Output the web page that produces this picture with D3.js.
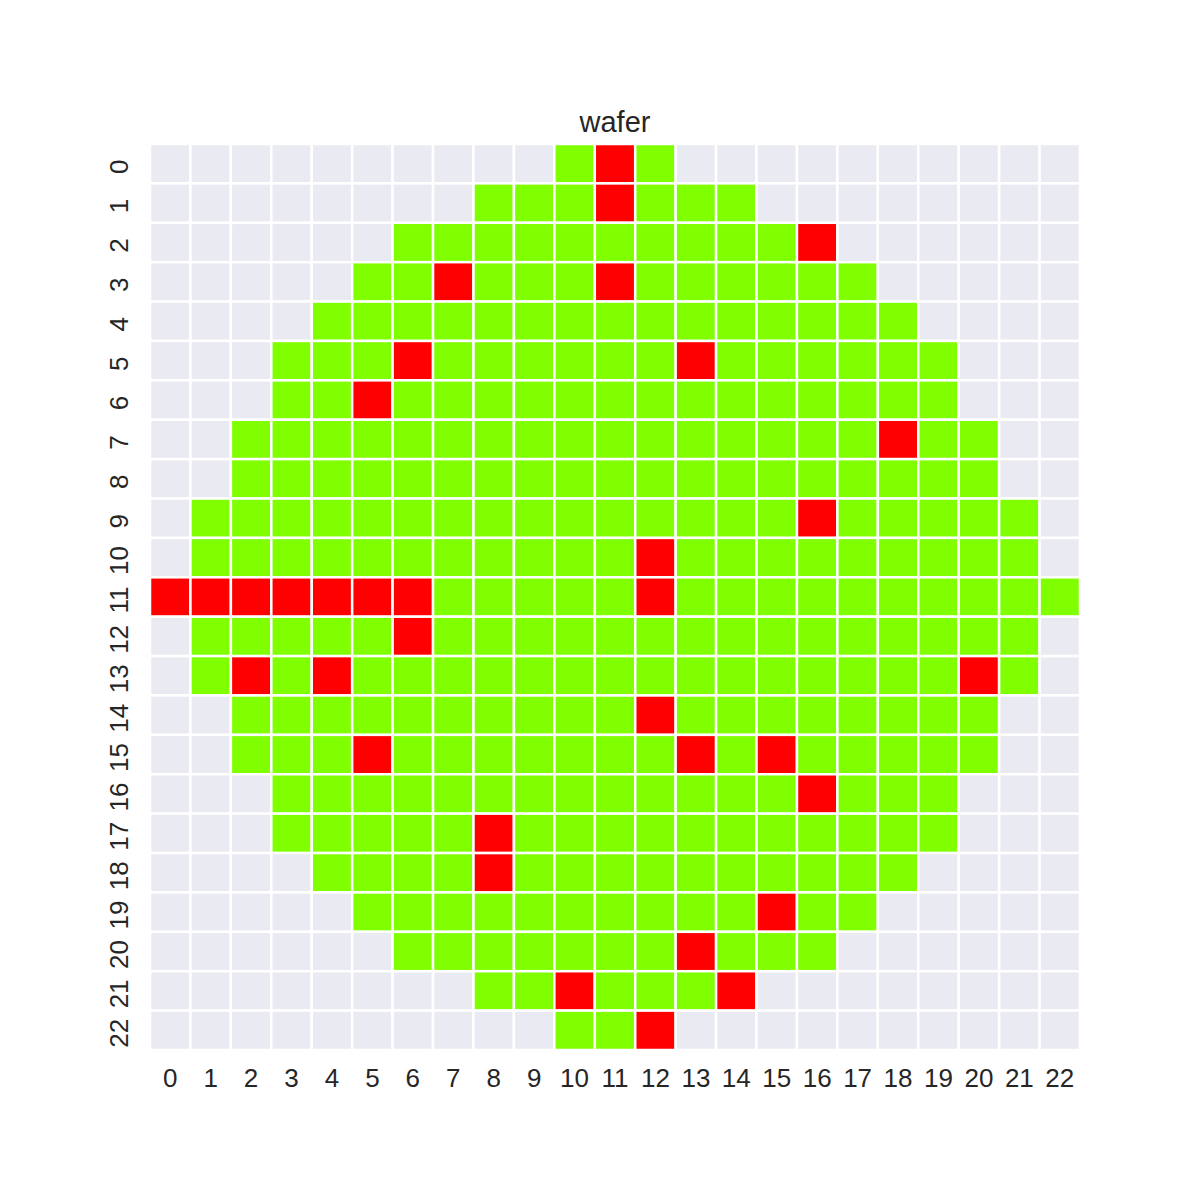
<!DOCTYPE html>
<html>
<head>
<meta charset="utf-8">
<script src="https://cdn.jsdelivr.net/npm/d3@7"></script>
<style>
  html, body { margin: 0; padding: 0; background: #ffffff; }
  svg { display: block; }
</style>
</head>
<body>
<svg id="chart" width="1200" height="1200"></svg>
<script>
// ---- Data ----
const title = "wafer";
const rowLabels = ["0","1","2","3","4","5","6","7","8","9","10","11","12","13","14","15","16","17","18","19","20","21","22"];
const colLabels = ["0","1","2","3","4","5","6","7","8","9","10","11","12","13","14","15","16","17","18","19","20","21","22"];
// 0 = no die, 1 = pass, 2 = fail
const waferRows = [
  [0,0,0,0,0,0,0,0,0,0,1,2,1,0,0,0,0,0,0,0,0,0,0],
  [0,0,0,0,0,0,0,0,1,1,1,2,1,1,1,0,0,0,0,0,0,0,0],
  [0,0,0,0,0,0,1,1,1,1,1,1,1,1,1,1,2,0,0,0,0,0,0],
  [0,0,0,0,0,1,1,2,1,1,1,2,1,1,1,1,1,1,0,0,0,0,0],
  [0,0,0,0,1,1,1,1,1,1,1,1,1,1,1,1,1,1,1,0,0,0,0],
  [0,0,0,1,1,1,2,1,1,1,1,1,1,2,1,1,1,1,1,1,0,0,0],
  [0,0,0,1,1,2,1,1,1,1,1,1,1,1,1,1,1,1,1,1,0,0,0],
  [0,0,1,1,1,1,1,1,1,1,1,1,1,1,1,1,1,1,2,1,1,0,0],
  [0,0,1,1,1,1,1,1,1,1,1,1,1,1,1,1,1,1,1,1,1,0,0],
  [0,1,1,1,1,1,1,1,1,1,1,1,1,1,1,1,2,1,1,1,1,1,0],
  [0,1,1,1,1,1,1,1,1,1,1,1,2,1,1,1,1,1,1,1,1,1,0],
  [2,2,2,2,2,2,2,1,1,1,1,1,2,1,1,1,1,1,1,1,1,1,1],
  [0,1,1,1,1,1,2,1,1,1,1,1,1,1,1,1,1,1,1,1,1,1,0],
  [0,1,2,1,2,1,1,1,1,1,1,1,1,1,1,1,1,1,1,1,2,1,0],
  [0,0,1,1,1,1,1,1,1,1,1,1,2,1,1,1,1,1,1,1,1,0,0],
  [0,0,1,1,1,2,1,1,1,1,1,1,1,2,1,2,1,1,1,1,1,0,0],
  [0,0,0,1,1,1,1,1,1,1,1,1,1,1,1,1,2,1,1,1,0,0,0],
  [0,0,0,1,1,1,1,1,2,1,1,1,1,1,1,1,1,1,1,1,0,0,0],
  [0,0,0,0,1,1,1,1,2,1,1,1,1,1,1,1,1,1,1,0,0,0,0],
  [0,0,0,0,0,1,1,1,1,1,1,1,1,1,1,2,1,1,0,0,0,0,0],
  [0,0,0,0,0,0,1,1,1,1,1,1,1,2,1,1,1,0,0,0,0,0,0],
  [0,0,0,0,0,0,0,0,1,1,2,1,1,1,2,0,0,0,0,0,0,0,0],
  [0,0,0,0,0,0,0,0,0,0,1,1,2,0,0,0,0,0,0,0,0,0,0]
];
const stateValues = [0, 1, 2];
const stateColors = ["#eaeaf2", "#7fff00", "#ff0000"];

// ---- Layout ----
const svg = d3.select("#chart");
const plotLeft = 150, plotRight = 1080, plotTop = 144, plotBottom = 1050;
const font = "'Liberation Sans', Arial, Helvetica, sans-serif";
const textColor = "#262626";

const x = d3.scaleBand().domain(colLabels).range([plotLeft, plotRight]).padding(0);
const y = d3.scaleBand().domain(rowLabels).range([plotTop, plotBottom]).padding(0);
const color = d3.scaleOrdinal().domain(stateValues).range(stateColors);

const cells = [];
waferRows.forEach((row, i) => row.forEach((v, j) => cells.push({r: rowLabels[i], c: colLabels[j], v})));

svg.append("g").selectAll("rect")
  .data(cells)
  .join("rect")
  .attr("x", d => x(d.c))
  .attr("y", d => y(d.r))
  .attr("width", x.bandwidth())
  .attr("height", y.bandwidth())
  .attr("fill", d => color(d.v))
  .attr("stroke", "#ffffff")
  .attr("stroke-width", 2.5);

// X axis
const xAxis = svg.append("g")
  .attr("transform", `translate(0,${plotBottom})`)
  .call(d3.axisBottom(x).tickSize(0).tickPadding(19));
xAxis.select(".domain").remove();
xAxis.selectAll("text")
  .attr("fill", textColor)
  .style("font-family", font)
  .style("font-size", "26px");

// Y axis (rotated labels)
const yAxis = svg.append("g")
  .attr("transform", `translate(${plotLeft},0)`)
  .call(d3.axisLeft(y).tickSize(0));
yAxis.select(".domain").remove();
yAxis.selectAll("text")
  .attr("x", -3)
  .attr("y", -22)
  .attr("dy", "0")
  .attr("transform", "rotate(-90)")
  .attr("text-anchor", "middle")
  .attr("fill", textColor)
  .style("font-family", font)
  .style("font-size", "26px");

// Title
svg.append("text")
  .attr("x", (plotLeft + plotRight) / 2)
  .attr("y", 132)
  .attr("text-anchor", "middle")
  .attr("fill", textColor)
  .style("font-family", font)
  .style("font-size", "29px")
  .text(title);
</script>
</body>
</html>
